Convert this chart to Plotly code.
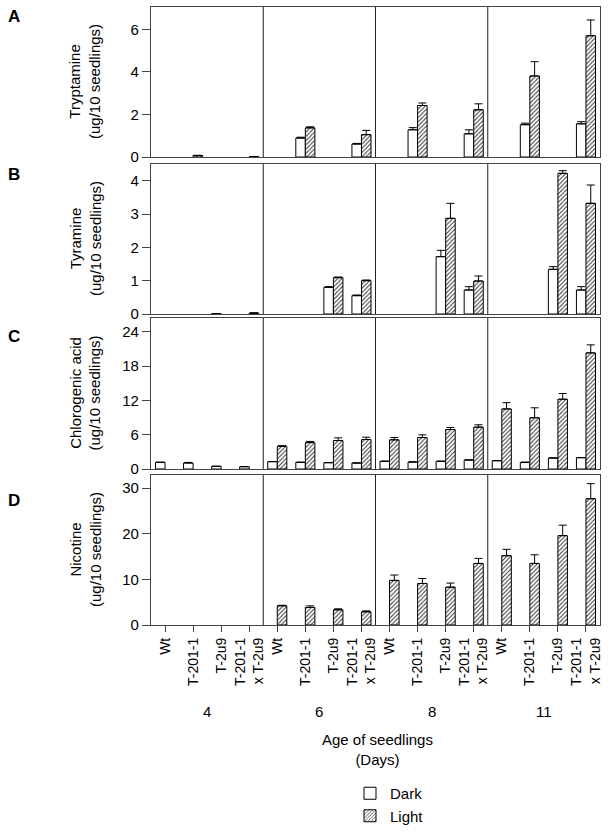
import plotly.graph_objects as go

# ---------------- data ----------------
days = ["4", "6", "8", "11"]
genotypes = ["Wt", "T-201-1", "T-2u9", "T-201-1<br>x T-2u9"]

tryp_dark = [None, None, None, None, None, 0.89, None, 0.61, None, 1.28, None, 1.09, None, 1.52, None, 1.56]
tryp_dark_err = [0, 0, 0, 0, 0, 0.04, 0, 0.03, 0, 0.10, 0, 0.19, 0, 0.07, 0, 0.10]
tryp_light = [None, 0.07, None, 0.02, None, 1.37, None, 1.05, None, 2.42, None, 2.22, None, 3.81, None, 5.70]
tryp_light_err = [0, 0.01, 0, 0, 0, 0.05, 0, 0.20, 0, 0.12, 0, 0.28, 0, 0.67, 0, 0.74]

tyr_dark = [None, None, 0.01, None, None, None, 0.80, 0.55, None, None, 1.72, 0.72, None, None, 1.34, 0.72]
tyr_dark_err = [0, 0, 0, 0, 0, 0, 0.02, 0.02, 0, 0, 0.19, 0.10, 0, 0, 0.08, 0.10]
tyr_light = [None, None, None, 0.03, None, None, 1.09, 1.00, None, None, 2.87, 0.99, None, None, 4.22, 3.32]
tyr_light_err = [0, 0, 0, 0, 0, 0, 0.02, 0.02, 0, 0, 0.45, 0.15, 0, 0, 0.08, 0.55]

chl_dark = [1.17, 1.05, 0.47, 0.41, 1.29, 1.17, 1.11, 1.05, 1.35, 1.23, 1.35, 1.58, 1.46, 1.17, 1.93, 1.99]
chl_dark_err = [0, 0.10, 0, 0, 0, 0, 0, 0, 0, 0, 0, 0, 0, 0, 0, 0]
chl_light = [None, None, None, None, 3.98, 4.62, 4.98, 5.15, 5.10, 5.50, 6.90, 7.32, 10.5, 8.96, 12.2, 20.3]
chl_light_err = [0, 0, 0, 0, 0.10, 0.20, 0.47, 0.41, 0.40, 0.47, 0.36, 0.41, 1.10, 1.74, 1.00, 1.40]

nic_dark = [None] * 16
nic_dark_err = [0] * 16
nic_light = [None, None, None, None, 4.22, 3.85, 3.33, 2.89, 9.78, 9.11, 8.30, 13.5, 15.2, 13.5, 19.6, 27.7]
nic_light_err = [0, 0, 0, 0, 0.10, 0.35, 0.22, 0.21, 1.18, 1.09, 0.90, 1.10, 1.40, 1.90, 2.30, 3.30]

panel_letters = ["A", "B", "C", "D"]
panel_titles = ["Tryptamine<br>(ug/10 seedlings)", "Tyramine<br>(ug/10 seedlings)",
                "Chlorogenic acid<br>(ug/10 seedlings)", "Nicotine<br>(ug/10 seedlings)"]
y_tickvals = [[0, 2, 4, 6], [0, 1, 2, 3, 4], [0, 6, 12, 18, 24], [0, 10, 20, 30]]
y_ranges = [[0, 7.05], [0, 4.5], [0, 26.4], [0, 32.9]]

panels = [
    (tryp_dark, tryp_dark_err, tryp_light, tryp_light_err),
    (tyr_dark, tyr_dark_err, tyr_light, tyr_light_err),
    (chl_dark, chl_dark_err, chl_light, chl_light_err),
    (nic_dark, nic_dark_err, nic_light, nic_light_err),
]

# ---------------- layout geometry ----------------
W, H = 611, 832
ML, MR = 151, 11
plot_w = W - ML - MR
panel_px = [(7, 157), (164, 314), (318, 469), (475, 625)]
letter_px = [16, 174, 337, 500]

def py(p):
    return 1 - p / H

def px_x(p):
    return (p - ML) / plot_w

FONT = "Liberation Sans, Arial, Helvetica, sans-serif"

# category positions along the x scale
xpos = []
ticktext = []
for gi, d in enumerate(days):
    for ci, g in enumerate(genotypes):
        xpos.append(gi * len(genotypes) + ci)
        ticktext.append(g)
ncat = len(xpos)

fig = go.Figure()
for i, (dk, dke, lt, lte) in enumerate(panels):
    xa = "x" if i == 0 else f"x{i+1}"
    ya = "y" if i == 0 else f"y{i+1}"
    fig.add_trace(go.Bar(
        x=xpos, y=dk, name="Dark", xaxis=xa, yaxis=ya,
        marker=dict(color="white", line=dict(color="black", width=1)),
        error_y=dict(type="data", symmetric=False, array=dke, arrayminus=[0] * ncat,
                     color="black", thickness=1, width=4),
        showlegend=(i == 0),
    ))
    fig.add_trace(go.Bar(
        x=xpos, y=lt, name="Light", xaxis=xa, yaxis=ya,
        marker=dict(color="white", line=dict(color="black", width=1),
                    pattern=dict(shape="/", fgcolor="#444444", bgcolor="white",
                                 size=3, solidity=0.35)),
        error_y=dict(type="data", symmetric=False, array=lte, arrayminus=[0] * ncat,
                     color="black", thickness=1, width=4),
        showlegend=(i == 0),
    ))

layout = dict(
    width=W, height=H,
    margin=dict(l=ML, r=MR, t=0, b=0, pad=0),
    paper_bgcolor="white", plot_bgcolor="white",
    barmode="group", bargap=0.32, bargroupgap=0,
    font=dict(family=FONT, size=15, color="black"),
    showlegend=True,
    legend=dict(x=px_x(350), y=0.0, xanchor="left", yanchor="bottom",
                font=dict(size=15, family=FONT), bgcolor="rgba(0,0,0,0)",
                tracegroupgap=0, itemwidth=30, traceorder="normal"),
    template="none",
)

annotations = []
shapes = []
for i in range(4):
    xk = "xaxis" if i == 0 else f"xaxis{i+1}"
    yk = "yaxis" if i == 0 else f"yaxis{i+1}"
    yref = "y" if i == 0 else f"y{i+1}"
    xref = "x" if i == 0 else f"x{i+1}"
    top, bot = panel_px[i]
    last = (i == 3)
    layout[xk] = dict(
        domain=[0, 1], anchor=yref, range=[-0.5, ncat - 0.5],
        showline=True, mirror=True, linecolor="#444444", linewidth=1.3,
        showgrid=False, zeroline=False, automargin=False,
        tickmode="array", tickvals=xpos if last else [],
        ticktext=ticktext if last else [],
        ticks="outside" if last else "", ticklen=6, tickcolor="#444444",
        tickangle=-90, tickfont=dict(size=14, family=FONT, color="black"),
        showticklabels=last, fixedrange=True,
    )
    layout[yk] = dict(
        domain=[py(bot), py(top)], anchor=xref, range=y_ranges[i],
        showline=True, mirror=True, linecolor="#444444", linewidth=1.3,
        showgrid=False, zeroline=False, automargin=False,
        tickmode="array", tickvals=y_tickvals[i],
        ticks="outside", ticklen=8, tickcolor="#444444",
        tickfont=dict(size=15, family=FONT, color="black"),
    )
    # group dividers
    for gi in range(1, len(days)):
        xb = gi * len(genotypes) - 0.5
        shapes.append(dict(type="line", xref=xref, yref=f"{yref} domain",
                           x0=xb, x1=xb, y0=0, y1=1,
                           line=dict(color="#222222", width=1)))
    # y titles
    annotations.append(dict(text=panel_titles[i], textangle=-90, xref="paper", yref="paper",
                            x=px_x(85), y=py((top + bot) / 2), xanchor="center", yanchor="middle",
                            showarrow=False, font=dict(size=15, family=FONT)))
    annotations.append(dict(text=f"<b>{panel_letters[i]}</b>", xref="paper", yref="paper",
                            x=px_x(14), y=py(letter_px[i]), xanchor="center", yanchor="middle",
                            showarrow=False, font=dict(size=17, family=FONT)))

# day labels
for gi, d in enumerate(days):
    annotations.append(dict(text=d, xref="x4", yref="paper",
                            x=gi * len(genotypes) + (len(genotypes) - 1) / 2, y=py(711),
                            xanchor="center", yanchor="middle", showarrow=False,
                            font=dict(size=15, family=FONT)))
annotations.append(dict(text="Age of seedlings<br>(Days)", xref="paper", yref="paper",
                        x=px_x(377), y=py(749), xanchor="center", yanchor="middle",
                        showarrow=False, font=dict(size=15, family=FONT)))

layout["annotations"] = annotations
layout["shapes"] = shapes
fig.update_layout(**layout)
fig.write_html("out.html", config={"displayModeBar": False},
               post_script="document.body.style.margin='0';document.body.style.overflow='hidden';")
